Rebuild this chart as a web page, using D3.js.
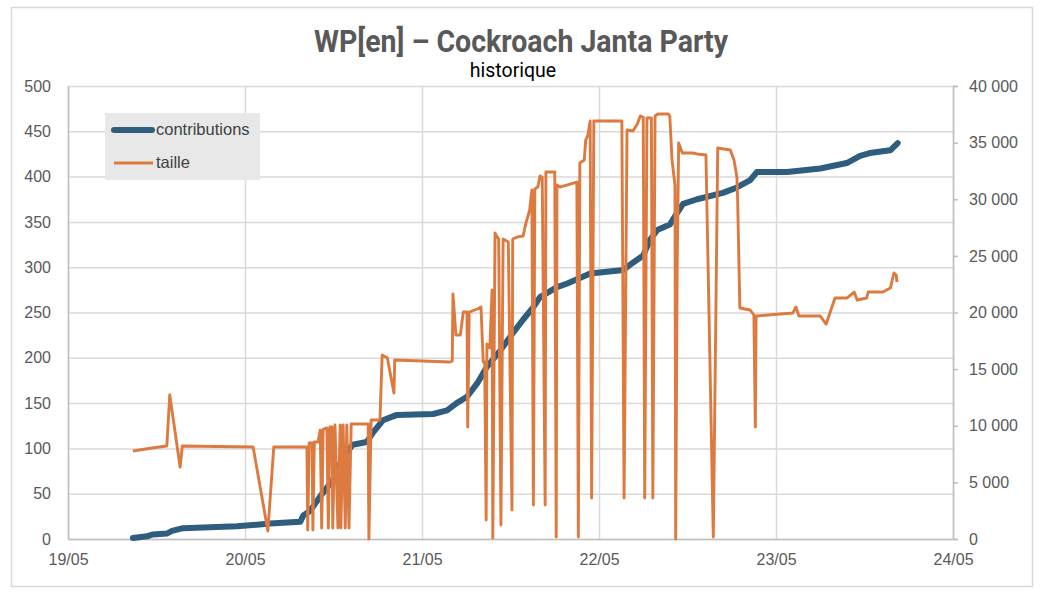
<!DOCTYPE html>
<html>
  <head>
    <meta charset="UTF-8">
    <script src="https://d3js.org/d3.v7.min.js"></script>
    <style>
      body { margin: 0; background: #fff; }
      .tick text { font-family: "Liberation Sans", Arial, sans-serif; font-size: 16px; fill: #595959; }
      .grid line { stroke: #d9d9d9; stroke-width: 1.5; }
    </style>
    <title>WP[en] – Cockroach Janta Party</title>
  </head>
  <body>
    <svg id="chart" width="1040" height="596"></svg>
    <script>
      // hours after 19/05 00:00
      const contribHours = [8.8, 10.7, 11.5, 13.4, 14.1, 15.6, 22.9, 27.4, 31.5, 31.9, 32.8, 34.2, 35.9, 37.3,
        38.6, 40.5, 41.4, 42.7, 44.6, 49.5, 51.4, 52.7, 54.1, 55.5, 56.8, 58.6, 60.3, 61.7, 63.1, 64.0,
        66.3, 67.7, 70.8, 75.3, 76.6, 78.0, 78.9, 79.9, 81.6, 82.6, 83.4, 85.3, 88.8, 90.7, 92.5, 93.4,
        97.5, 102.0, 105.6, 107.4, 108.7, 111.5, 112.5];
      const contribValues = [1, 3, 5, 6, 9, 12, 14, 17, 19, 26, 31, 47, 65, 90,
        104, 107, 118, 131, 137, 138, 142, 150, 157, 172, 190, 208, 227, 242, 256, 267,
        278, 282, 293, 297, 305, 313, 330, 341, 347, 360, 370, 375, 382, 388, 396, 405,
        405, 409, 415, 423, 426, 429, 437];

      const tailleHours = [8.8, 11.4, 13.4, 13.8, 15.2, 15.5, 25.1, 27.1, 27.9, 32.4, 32.5, 32.7, 33.1, 33.2,
        33.4, 33.9, 34.2, 34.4, 34.6, 35.1, 35.3, 35.5, 35.8, 35.9, 36.2, 36.6, 36.9, 37.0, 37.3, 37.6,
        37.8, 38.1, 38.4, 40.7, 40.8, 41.1, 42.3, 42.6, 43.3, 44.2, 44.3, 51.8, 52.1, 52.2, 52.6, 53.2,
        53.6, 54.1, 54.2, 54.4, 55.5, 56.0, 56.3, 56.5, 56.7, 56.8, 57.2, 57.5, 57.6, 57.9, 58.2, 58.4,
        58.7, 59.0, 59.7, 60.2, 60.3, 60.9, 61.7, 62.1, 62.6, 62.9, 63.1, 63.3, 63.7, 64.0, 64.3, 64.7,
        64.8, 66.0, 66.2, 66.3, 66.7, 69.0, 69.2, 69.4, 70.0, 70.2, 70.5, 70.8, 71.0, 71.3, 75.1, 75.4,
        75.8, 76.6, 77.2, 77.6, 78.0, 78.2, 78.5, 79.1, 79.3, 79.6, 80.0, 81.4, 81.6, 81.9, 82.3, 82.4,
        82.6, 82.8, 83.3, 84.7, 85.3, 86.5, 87.5, 88.1, 89.8, 90.3, 90.7, 90.8, 91.1, 92.5, 93.0, 93.2,
        93.3, 98.3, 98.7, 99.1, 102.0, 102.8, 104.0, 105.6, 106.6, 107.0, 108.3, 108.5, 110.5, 111.5,
        112.0, 112.3, 112.4];
      const tailleValues = [7770, 8040, 8210, 12720, 6360, 8210, 8120, 710, 8120, 8120, 800, 8480, 8480, 800,
        8560, 8560, 9620, 970, 9710, 9800, 970, 9890, 9890, 970, 10070, 970, 10070, 970, 10070, 970,
        10070, 970, 10150, 10150, 0, 10510, 10510, 16250, 15980, 12890, 15800, 15630, 15720, 21630, 18010, 18010,
        20040, 20040, 9890, 20040, 20310, 20490, 15630, 15630, 1680, 17220, 16870, 21990, 90, 27020, 26670, 26490,
        1240, 26490, 26230, 2560, 26490, 26670, 26750, 27900, 29050, 30820, 3000, 30910, 31080, 32050, 31960, 3000,
        32410, 32410, 180, 31260, 31080, 31520, 180, 33200, 33470, 35230, 35670, 36910, 3620, 36910, 36910, 3620,
        36110, 36030, 36640, 37350, 37260, 3620, 37170, 37170, 3620, 37350, 37530, 37530, 37350, 33470, 31260, 0,
        24020, 34970, 34080, 34080, 34000, 33910, 180, 34530, 34350, 33470, 31960, 29930, 20400, 20220, 19780, 9890,
        19690, 19960, 20490, 19690, 19690, 18980, 21280, 21280, 21810, 21100, 21280, 21810, 21810, 22160,
        23490, 23310, 22690];

      const leftTicks = [0, 50, 100, 150, 200, 250, 300, 350, 400, 450, 500];
      const rightTicks = [0, 5000, 10000, 15000, 20000, 25000, 30000, 35000, 40000];
      const dayTicks = [19, 20, 21, 22, 23, 24];

      const seriesNames = ["contributions", "taille"];
      const seriesColors = ["#2e5d7e", "#dc7a3f"];
      const seriesWidths = [6, 2.9];

      const svg = d3.select("svg#chart");
      const margin = { "top": 86, "right": 87, "bottom": 57, "left": 68 };
      const width = +svg.attr("width");
      const height = +svg.attr("height");
      const chartWidth = width - margin.left - margin.right;
      const chartHeight = height - margin.top - margin.bottom;

      const start = new Date(2025, 4, 19);
      const toDate = h => new Date(start.getTime() + h * 3600 * 1000);

      const xScale = d3.scaleTime()
        .domain([new Date(2025, 4, 19), new Date(2025, 4, 24)])
        .range([margin.left, margin.left + chartWidth]);
      const yLeft = d3.scaleLinear().domain([0, 500]).range([margin.top + chartHeight, margin.top]);
      const yRight = d3.scaleLinear().domain([0, 40000]).range([margin.top + chartHeight, margin.top]);

      // outer frame
      svg.append("rect")
        .attr("x", 11.5).attr("y", 7.5).attr("width", 1021).attr("height", 579)
        .attr("fill", "none").attr("stroke", "#d9d9d9").attr("stroke-width", 1.5);

      const dayDates = dayTicks.map(d => new Date(2025, 4, d));

      // gridlines
      svg.append("g")
        .attr("class", "grid")
        .attr("transform", "translate(" + margin.left + ",0)")
        .call(d3.axisLeft(yLeft).tickValues(leftTicks).tickFormat("").tickSize(-chartWidth))
        .call(g => g.select(".domain").remove());
      svg.append("g")
        .attr("class", "grid")
        .attr("transform", "translate(0," + (margin.top + chartHeight) + ")")
        .call(d3.axisBottom(xScale).tickValues(dayDates).tickFormat("").tickSize(-chartHeight))
        .call(g => g.select(".domain").remove());

      // left axis
      svg.append("g")
        .attr("transform", "translate(" + margin.left + ",0)")
        .call(d3.axisLeft(yLeft).tickValues(leftTicks).tickSize(0).tickPadding(17))
        .call(g => g.select(".domain").attr("stroke", "#bfbfbf").attr("stroke-width", 1.5));

      // right axis
      const spaceFormat = d3.formatLocale({ decimal: ",", thousands: " ", grouping: [3], currency: ["", ""] }).format(",");
      svg.append("g")
        .attr("transform", "translate(" + (margin.left + chartWidth) + ",0)")
        .call(d3.axisRight(yRight).tickValues(rightTicks).tickFormat(spaceFormat).tickSize(5).tickPadding(11))
        .call(g => g.select(".domain").attr("stroke", "#bfbfbf").attr("stroke-width", 1.5))
        .call(g => g.selectAll(".tick line").attr("stroke", "#bfbfbf").attr("stroke-width", 1.5));

      // bottom axis
      svg.append("g")
        .attr("transform", "translate(0," + (margin.top + chartHeight) + ")")
        .call(d3.axisBottom(xScale).tickValues(dayDates).tickFormat(d3.timeFormat("%d/%m")).tickSize(0).tickPadding(15))
        .call(g => g.select(".domain").attr("stroke", "#bfbfbf").attr("stroke-width", 1.5));

      // series
      const contribData = contribHours.map((h, i) => ({ t: toDate(h), v: contribValues[i] }));
      const tailleData = tailleHours.map((h, i) => ({ t: toDate(h), v: tailleValues[i] }));

      svg.append("path")
        .datum(contribData)
        .attr("fill", "none")
        .attr("stroke", seriesColors[0])
        .attr("stroke-width", seriesWidths[0])
        .attr("stroke-linecap", "round")
        .attr("stroke-linejoin", "round")
        .attr("d", d3.line().x(d => xScale(d.t)).y(d => yLeft(d.v)));

      svg.append("path")
        .datum(tailleData)
        .attr("fill", "none")
        .attr("stroke", seriesColors[1])
        .attr("stroke-width", seriesWidths[1])
        .attr("stroke-linejoin", "round")
        .attr("d", d3.line().x(d => xScale(d.t)).y(d => yRight(d.v)));

      // title
      svg.append("text")
        .attr("x", 521).attr("y", 52)
        .attr("text-anchor", "middle")
        .attr("font-family", "Roboto, sans-serif")
        .attr("font-weight", 700)
        .attr("font-size", 31)
        .attr("fill", "#595959")
        .attr("textLength", 414)
        .attr("lengthAdjust", "spacingAndGlyphs")
        .text("WP[en] – Cockroach Janta Party");
      svg.append("text")
        .attr("x", 513).attr("y", 77)
        .attr("text-anchor", "middle")
        .attr("font-family", "Roboto, sans-serif")
        .attr("font-size", 19.5)
        .attr("fill", "#000")
        .text("historique");

      // legend
      const legend = svg.append("g");
      legend.append("rect")
        .attr("x", 105).attr("y", 113).attr("width", 155).attr("height", 67)
        .attr("fill", "#e8e8e8");
      const legendRows = legend.selectAll("g.row").data(seriesNames).enter()
        .append("g").attr("class", "row")
        .attr("transform", (d, i) => "translate(0," + (130 + i * 33) + ")");
      legendRows.append("line")
        .attr("x1", (d, i) => i === 0 ? 114 : 114).attr("x2", (d, i) => i === 0 ? 152 : 153)
        .attr("stroke", (d, i) => seriesColors[i])
        .attr("stroke-width", (d, i) => seriesWidths[i])
        .attr("stroke-linecap", (d, i) => i === 0 ? "round" : "butt");
      legendRows.append("text")
        .attr("x", 156).attr("y", 0).attr("dy", "0.33em")
        .attr("font-family", "\"Liberation Sans\", Arial, sans-serif")
        .attr("font-size", 16.5)
        .attr("fill", "#404040")
        .text(d => d);
    </script>
  </body>
</html>
